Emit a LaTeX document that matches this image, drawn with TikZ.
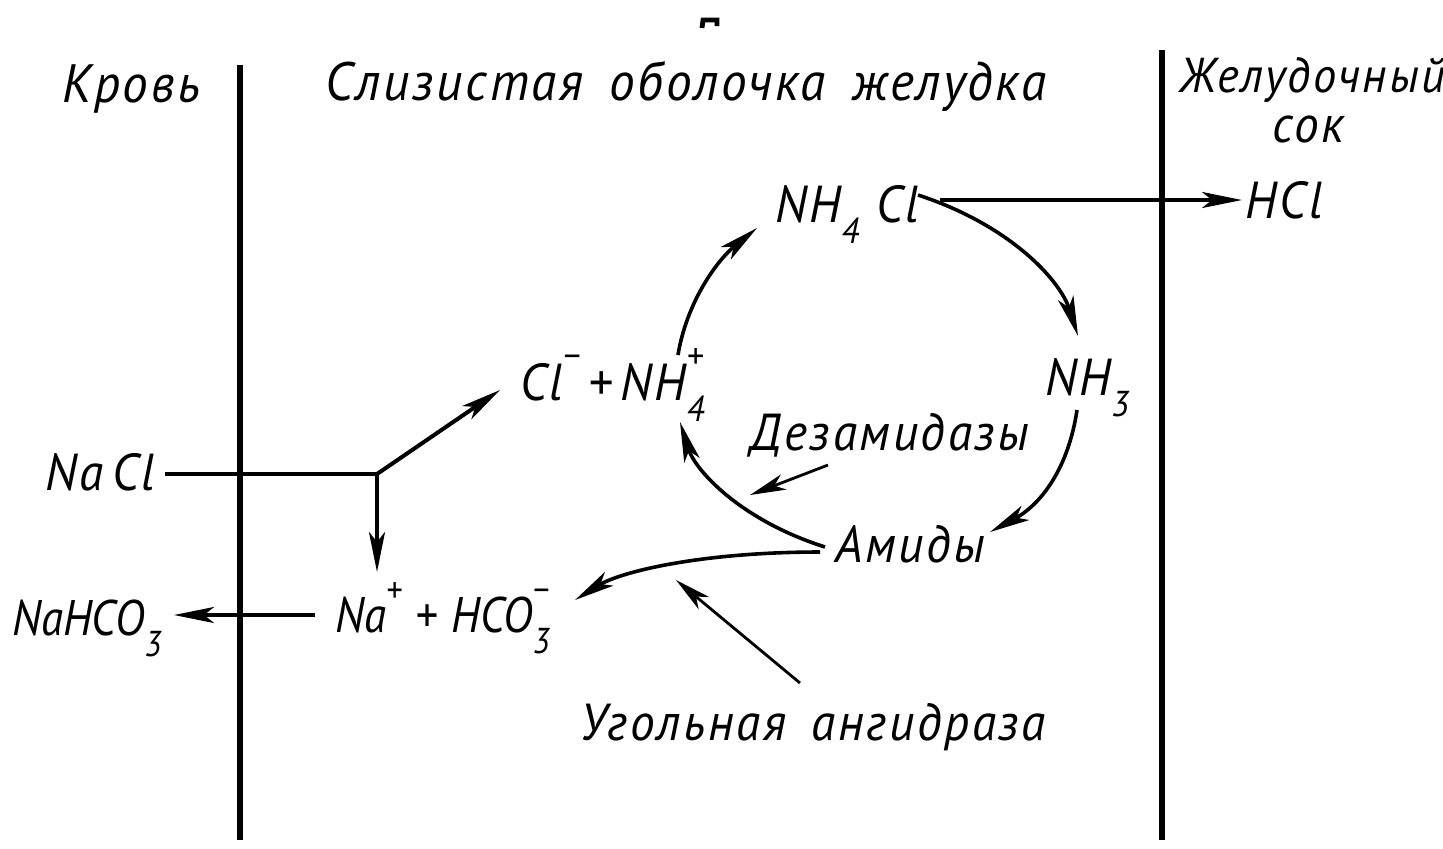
\documentclass[tikz,border=0pt]{standalone}
\usepackage{fontspec}
\usetikzlibrary{arrows.meta}
\newfontfamily\gost{PT Sans Italic}[FakeStretch=0.95,LetterSpace=5,WordSpace=1.6]
\newfontfamily\gostf{PT Sans Italic}[FakeStretch=0.9,LetterSpace=0]
\newcommand\dnx[1]{\raisebox{-0.42em}{\fontsize{18pt}{18pt}\selectfont #1}}
\newcommand\upx[1]{\raisebox{0.6em}{\fontsize{18pt}{18pt}\selectfont #1}}
\begin{document}
\begin{tikzpicture}[x=0.5pt,y=-0.5pt,
  lab/.style={anchor=base west,inner sep=0pt,font=\gost\fontsize{26pt}{28pt}\selectfont},
  flab/.style={lab,font=\gostf\fontsize{25pt}{28pt}\selectfont},
  hd/.style={lab,font=\gost\fontsize{27pt}{30pt}\selectfont},
  wall/.style={line width=3.2pt},
  arr/.style={line width=2pt,-{Stealth[length=20pt,width=8pt,inset=5pt]}},
  carr/.style={line width=1.8pt,-{Stealth[length=20pt,width=8pt,inset=5pt]}},
  thin/.style={line width=1.4pt,-{Stealth[length=18pt,width=8pt,inset=5pt]}}]
\useasboundingbox[fill=white] (0,0) rectangle (1443,848);
% headings
\node[hd] (krov) at (62,102) {Кровь};
\node[hd] (sliz) at (325,100) {Слизистая оболочка желудка};
\node[lab, font=\gost\fontsize{24.5pt}{28pt}\selectfont] (zhel) at (1180,92) {Желудочный};
\node[lab] (sok) at (1272,142) {сок};
% small mark at top
\draw[line width=2.4pt] (702,28) -- (703,20) -- (717,20) -- (717,26);
% membranes
\coordinate (lt) at (240,65); \coordinate (lb) at (240,840);
\coordinate (rt) at (1162,50); \coordinate (rb) at (1162,840);
\draw[wall] (lt) -- (lb);
\draw[wall] (rt) -- (rb);
% labels
\node[lab] (nh4cl) at (775,222) {NH\dnx{4}\,\,Cl};
\node[lab] (hcl) at (1245,218) {HCl};
\node[lab] (nh3) at (1045,395) {NH\dnx{3}};
\node[lab] (clnh) at (520,400) {Cl\upx{−}\,+\,NH\rlap{\dnx{4}}\upx{+}};
\node[lab] (dez) at (750,450) {Дезамидазы};
\node[lab] (nacl) at (45,490) {Na\,Cl};
\node[lab] (amid) at (835,562) {Амиды};
\node[flab] (nahco) at (12,635) {NaHCO\dnx{3}};
\node[flab] (nahc) at (335,632) {Na\upx{+}\kern7pt+\kern7pt HCO\rlap{\dnx{3}}\upx{−}};
\node[lab] (ugol) at (580,740) {Угольная ангидраза};
% connectors
\draw[arr] ([shift={(165,-22)}]nh4cl.base west) -- ([shift={(-3,-18)}]hcl.base west);
\draw[carr] ([shift={(143,-27)}]nh4cl.base west) .. controls (1010,225) and (1060,280) .. ([shift={(33,-59)}]nh3.base west);
\draw[carr] ([shift={(32,15)}]nh3.base west) .. controls (1068,470) and (1040,505) .. ([shift={(155,-30)}]amid.base west);
\draw[carr] ([shift={(-10,-15)}]amid.base west) .. controls (740,520) and (695,470) .. ([shift={(160,22)}]clnh.base west);
\draw[carr] ([shift={(158,-45)}]clnh.base west) .. controls (686,305) and (715,262) .. ([shift={(-18,6)}]nh4cl.base west);
\coordinate (J) at (377,474);
\draw[arr, -] ([shift={(120,-16)}]nacl.base west) -- (J);
\draw[arr] (J) -- ([shift={(-20,-10)}]clnh.base west);
\draw[arr] (J) -- ([shift={(42,-60)}]nahc.base west);
\draw[arr] ([shift={(-20,-17)}]nahc.base west) -- ([shift={(162,-20)}]nahco.base west);
\draw[carr] ([shift={(-15,-10)}]amid.base west) .. controls (700,552) and (620,572) .. ([shift={(240,-32)}]nahc.base west);
\draw[thin] ([shift={(220,-57)}]ugol.base west) -- ([shift={(96,-160)}]ugol.base west);
\draw[thin] ([shift={(78,15)}]dez.base west) -- ([shift={(0,45)}]dez.base west);
\end{tikzpicture}
\end{document}
